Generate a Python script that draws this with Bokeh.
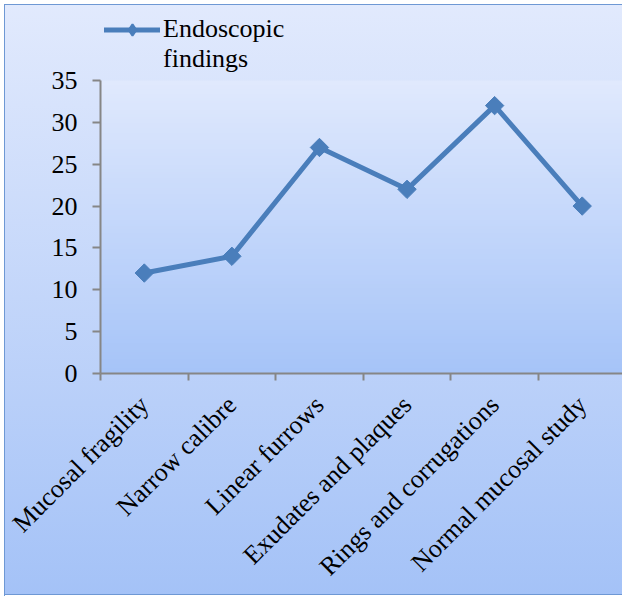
import numpy as np
from math import pi
from bokeh.plotting import figure
from bokeh.models import Range1d, FixedTicker, Legend, LegendItem, ColumnDataSource
from bokeh.embed import file_html
from bokeh.resources import INLINE

# ---- data ----
categories = ["Mucosal fragility", "Narrow calibre", "Linear furrows",
              "Exudates and plaques", "Rings and corrugations", "Normal mucosal study"]
values = [12, 14, 27, 22, 32, 20]
y_ticks = [0, 5, 10, 15, 20, 25, 30, 35]
series_label_lines = ["Endoscopic", "findings"]

# ---- layout / style ----
FONT = "Liberation Serif"
FS = "26px"
LINE_COLOR = "#4a7ebb"
AXIS_COLOR = "#868686"

n = len(categories)
x_pos = [i + 0.5 for i in range(n)]
x_end = 5.96  # plot area is cut by the right edge of the picture
y_max = y_ticks[-1]
y_top = y_max * 373 / 293  # extra room above the plot area for the legend

p = figure(width=622, height=596, output_backend="svg", toolbar_location=None,
           x_range=Range1d(0, x_end), y_range=Range1d(0, y_top),
           min_border_left=100, min_border_right=0, min_border_top=0,
           min_border_bottom=223)
p.background_fill_color = None
p.border_fill_color = None
p.outline_line_color = None
p.grid.visible = False
p.styles = {
    "background-image": "linear-gradient(to bottom, #e2eafd 0%, #a4c2f7 100%)",
    "box-shadow": ("inset 4px 4px 0 0 #ffffff, inset 5px 5px 0 0 #6e98d4, "
                   "inset 0 -1px 0 0 #ffffff, inset 0 -2px 0 0 #6e98d4"),
}

# plot-area gradient
top = np.array([224, 233, 253], dtype=float)
bottom = np.array([166, 196, 248], dtype=float)
nr = 128
t = np.linspace(0, 1, nr)[:, None]
cols = bottom + (top - bottom) * t
img = np.empty((nr, 1), dtype=np.uint32)
view = img.view(dtype=np.uint8).reshape((nr, 1, 4))
view[:, 0, 0] = cols[:, 0].round()
view[:, 0, 1] = cols[:, 1].round()
view[:, 0, 2] = cols[:, 2].round()
view[:, 0, 3] = 255
p.image_rgba(image=[img], x=0, y=0, dw=x_end, dh=y_max)

src = ColumnDataSource(dict(x=x_pos, y=values, name=categories))
line_r = p.line("x", "y", source=src, line_color=LINE_COLOR, line_width=5,
                line_join="round", line_cap="round")
pts_r = p.scatter("x", "y", source=src, marker="square", size=13, angle=pi / 4,
                  fill_color=LINE_COLOR, line_color=LINE_COLOR)

# renderers used only for legend swatches (they draw nothing in the plot)
nan = float("nan")
leg_r = p.scatter(x=[nan], y=[nan], marker="diamond", fill_color=LINE_COLOR,
                  line_color=LINE_COLOR, line_width=2)
blank_r = p.line(x=[nan], y=[nan], line_alpha=0)

# axes
xa = p.xaxis[0]
xa.ticker = FixedTicker(ticks=x_pos, minor_ticks=list(range(n + 1)))
xa.major_label_overrides = {x: c for x, c in zip(x_pos, categories)}
xa.major_label_orientation = pi / 4
xa.major_tick_line_color = None
xa.major_tick_in = 0
xa.major_tick_out = 0
xa.minor_tick_in = 0
xa.minor_tick_out = 7
xa.minor_tick_line_color = AXIS_COLOR
xa.minor_tick_line_width = 2
xa.axis_line_color = AXIS_COLOR
xa.axis_line_width = 2
xa.major_label_standoff = 20
xa.major_label_text_font = FONT
xa.major_label_text_font_size = FS
xa.major_label_text_color = "black"

ya = p.yaxis[0]
ya.ticker = FixedTicker(ticks=y_ticks, minor_ticks=[])
ya.bounds = (0, y_max)
ya.major_tick_in = 0
ya.major_tick_out = 8
ya.major_tick_line_color = AXIS_COLOR
ya.major_tick_line_width = 2
ya.axis_line_color = AXIS_COLOR
ya.axis_line_width = 2
ya.major_label_standoff = 15
ya.major_label_text_font = FONT
ya.major_label_text_font_size = FS
ya.major_label_text_color = "black"

legend = Legend(items=[LegendItem(label=series_label_lines[0], renderers=[line_r, leg_r]),
                       LegendItem(label=series_label_lines[1], renderers=[blank_r])],
                location=(4, 299), padding=0, margin=0, spacing=0,
                glyph_width=56, glyph_height=29, label_standoff=3,
                label_text_font=FONT, label_text_font_size=FS,
                label_text_color="black",
                background_fill_alpha=0, border_line_color=None)
p.add_layout(legend)

open("out.html", "w").write(file_html(p, INLINE))
